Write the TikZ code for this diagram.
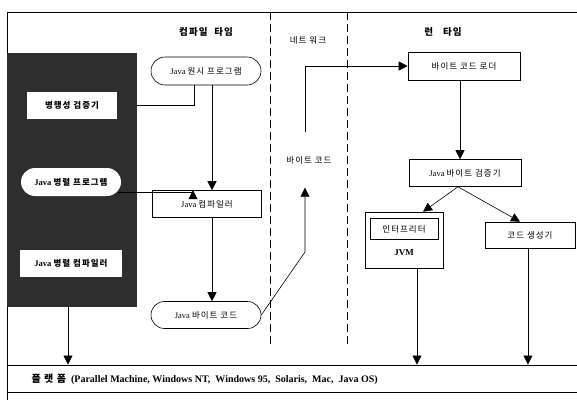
\documentclass[tikz,border=0pt]{standalone}
\usepackage{fontspec}
\setmainfont{Liberation Serif}
\newfontfamily\kr[LetterSpace=12]{Noto Sans CJK KR}
\usetikzlibrary{arrows.meta,shapes.misc}
\tikzset{
  arr/.style={-{Triangle[length=9pt,width=9pt]}, line width=0.6pt},
  ln/.style={line width=0.6pt},
  box/.style={draw, line width=0.6pt, fill=white, rectangle, inner sep=1pt, font=\fontsize{8.5}{9}\selectfont},
  pill/.style={draw, line width=0.6pt, fill=white, rounded rectangle, inner sep=1pt, font=\fontsize{8.5}{9}\selectfont},
  wbox/.style={fill=white, rectangle, inner sep=1pt, font=\bfseries\fontsize{8.5}{9}\selectfont},
  wpill/.style={fill=white, rounded rectangle, inner sep=1pt, font=\bfseries\fontsize{8.5}{9}\selectfont},
  head/.style={font=\kr\bfseries\fontsize{9.5}{10}\selectfont},
  sep/.style={line width=0.9pt, dash pattern=on 8pt off 4pt},
}
\begin{document}
\begin{tikzpicture}[x=1pt,y=-1pt]
\useasboundingbox (0,0) rectangle (577,400);
% frame
\draw[ln] (577,12) -- (7,12) -- (7,400);
\draw[sep] (270,12) -- (270,345);
\draw[sep] (347,12) -- (347,345);
% headings
\node[head] (h1) at (206,32) {컴파일\ \ 타임};
\node[font=\kr\fontsize{8.5}{9}\selectfont] (h2) at (308,40) {네트 워크};
\node[head] (h3) at (443,32) {런\ \ \ 타임};
% dark box
\node[fill=black!82, minimum width=130pt, minimum height=254pt, inner sep=0pt] (dark) at (72,180) {};
\node[wbox, minimum width=90pt, minimum height=27pt] (checker) at (72,105) {\kr 병행성 검증기};
\node[wpill, minimum width=102pt, minimum height=28pt] (parprog) at (71,182) {Java {\kr 병렬 프로그램}};
\node[wbox, minimum width=102pt, minimum height=27pt] (parcomp) at (71,263) {Java {\kr 병렬 컴파일러}};
% compile time column
\node[pill, minimum width=112pt, minimum height=28pt] (src) at (206,71) {Java {\kr 원시 프로그램}};
\node[box, minimum width=109pt, minimum height=27pt] (comp) at (207,204) {Java {\kr 컴파일러}};
\node[pill, minimum width=112pt, minimum height=27pt] (bc) at (206,315) {Java {\kr 바이트 코드}};
% network
\node[font=\kr\fontsize{8.5}{9}\selectfont, minimum height=55pt, inner sep=0pt] (net) at (309,160) {바이트 코드};
\coordinate (bend) at (305,252);
% run time
\node[box, minimum width=112pt, minimum height=28pt] (loader) at (464,66) {\kr 바이트 코드 로더};
\node[box, minimum width=112pt, minimum height=27pt] (verif) at (465,173) {Java {\kr 바이트 검증기}};
\node[box, minimum width=78pt, minimum height=56pt] (jvm) at (404,240) {};
\node[box, minimum width=68pt, minimum height=21pt] (interp) at (404,229) {\kr 인터프리터};
\node[font=\bfseries\fontsize{9}{10}\selectfont] (jvmt) at (404,253) {JVM};
\node[box, minimum width=90pt, minimum height=26pt] (gen) at (530,235) {\kr 코드 생성기};
% platform
\node[draw, line width=0.9pt, minimum width=572pt, minimum height=27pt, inner sep=0pt] (plat) at (293,378.5) {};
\node[anchor=west, font=\bfseries\fontsize{10}{11}\selectfont] (platt) at (28,379) {{\kr 플\ 랫\ 폼}\ \ (Parallel Machine, Windows NT,\ \ Windows 95,\ \ Solaris,\ \ Mac,\ \ Java OS)};
% connectors
\draw[ln] (checker.east -| dark.east) -| ([xshift=-12pt]src.south);
\draw[arr] ([xshift=6pt]src.south) -- ([xshift=6pt]src.south |- comp.north);
\draw[arr] ([xshift=-3pt,yshift=-10pt]parprog.east) -| ([xshift=-14pt]comp.north);
\draw[arr] ([xshift=5pt]comp.south) -- ([xshift=5pt]comp.south |- bc.north);
\draw[arr] (bc.east) -- (bend) -- (bend |- net.south);
\draw[arr] (bend |- net.north) |- (loader.west);
\draw[arr] ([xshift=-4pt]loader.south) -- ([xshift=-4pt]loader.south |- verif.north);
\draw[arr] ([xshift=-7pt]verif.south) -- ([xshift=19pt]jvm.north);
\draw[arr] ([xshift=-7pt]verif.south) -- ([xshift=-10pt]gen.north);
\draw[arr] ([xshift=13pt]jvm.south) -- ([xshift=13pt]jvm.south |- plat.north);
\draw[arr] ([xshift=-2pt]gen.south) -- ([xshift=-2pt]gen.south |- plat.north);
\draw[arr] ([xshift=-4pt]dark.south) -- ([xshift=-4pt]dark.south |- plat.north);
\end{tikzpicture}
\end{document}
